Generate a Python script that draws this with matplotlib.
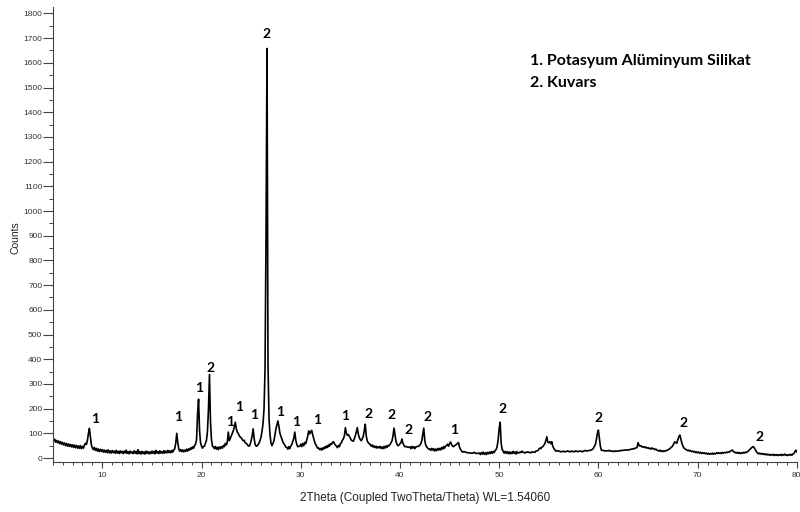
import matplotlib
matplotlib.use("Agg")
import matplotlib.pyplot as plt
import numpy as np
from matplotlib.ticker import MultipleLocator

# XRD scan, step 0.1 deg from 5 to 80 (one row per degree), counts
two_theta = np.round(np.arange(5.0, 80.05, 0.1), 2)
counts = [
    78, 70, 76, 64, 71, 62, 69, 58, 66, 56,        # 5
    63, 53, 61, 50, 59, 48, 57, 47, 55, 45,        # 6
    54, 43, 52, 42, 51, 40, 49, 39, 50, 38,        # 7
    47, 40, 53, 60, 55, 72, 100, 120, 85, 52,      # 8
    41, 34, 43, 31, 39, 28, 37, 26, 35, 27,        # 9
    34, 24, 32, 23, 31, 22, 33, 21, 29, 20,        # 10
    30, 22, 28, 19, 31, 20, 27, 18, 29, 21,        # 11
    27, 18, 28, 20, 32, 19, 26, 17, 28, 20,        # 12
    25, 18, 29, 19, 27, 17, 34, 18, 26, 16,        # 13
    27, 18, 25, 16, 28, 19, 26, 17, 25, 18,        # 14
    28, 19, 27, 17, 31, 20, 26, 18, 29, 20,        # 15
    26, 19, 30, 20, 28, 21, 31, 22, 29, 21,        # 16
    31, 24, 33, 38, 60, 100, 65, 38, 28, 34,       # 17
    26, 33, 25, 32, 27, 36, 28, 37, 32, 41,        # 18
    36, 45, 40, 51, 56, 75, 180, 238, 110, 62,     # 19
    48, 40, 47, 48, 61, 72, 110, 200, 338, 150,    # 20
    75, 48, 45, 38, 47, 36, 43, 34, 45, 38,        # 21
    46, 40, 51, 46, 59, 53, 66, 105, 70, 80,       # 22
    90, 100, 110, 125, 145, 120, 105, 100, 90, 85, # 23
    82, 75, 70, 72, 62, 60, 55, 50, 48, 55,        # 24
    70, 90, 118, 80, 55, 48, 49, 54, 61, 72,       # 25
    85, 110, 140, 200, 360, 900, 1658, 380, 160, 95,  # 26
    60, 50, 59, 70, 95, 118, 135, 150, 128, 100,   # 27
    88, 75, 65, 58, 52, 44, 43, 36, 46, 38,        # 28
    49, 55, 68, 80, 105, 72, 55, 46, 47, 48,       # 29
    56, 46, 59, 50, 63, 58, 72, 88, 110, 98,       # 30
    105, 112, 95, 80, 65, 55, 48, 40, 41, 34,      # 31
    39, 32, 41, 36, 45, 40, 49, 43, 53, 48,        # 32
    58, 55, 64, 66, 58, 52, 48, 42, 51, 46,        # 33
    58, 62, 72, 78, 90, 123, 100, 92, 95, 88,      # 34
    80, 72, 70, 68, 78, 90, 105, 123, 98, 82,      # 35
    75, 70, 78, 88, 110, 137, 90, 70, 62, 58,      # 36
    55, 48, 53, 44, 49, 42, 48, 40, 46, 41,        # 37
    47, 39, 45, 38, 47, 40, 49, 43, 51, 50,        # 38
    55, 62, 70, 90, 121, 95, 68, 55, 50, 52,       # 39
    58, 62, 77, 60, 52, 46, 46, 46, 43, 44,        # 40
    45, 38, 47, 40, 46, 38, 45, 46, 47, 48,        # 41
    52, 58, 70, 95, 121, 72, 52, 45, 40, 36,       # 42
    37, 31, 39, 32, 38, 28, 36, 30, 39, 32,        # 43
    39, 33, 43, 36, 46, 40, 49, 50, 56, 48,        # 44
    58, 65, 55, 48, 46, 50, 52, 56, 58, 63,        # 45
    45, 35, 30, 24, 25, 26, 23, 23, 21, 22,        # 46
    20, 21, 19, 20, 21, 23, 19, 19, 18, 20,        # 47
    20, 14, 22, 16, 24, 15, 21, 14, 23, 17,        # 48
    24, 18, 26, 19, 27, 22, 31, 35, 48, 75,        # 49
    120, 145, 60, 35, 27, 20, 27, 19, 26, 18,      # 50
    25, 17, 24, 18, 27, 19, 25, 16, 26, 20,        # 51
    21, 24, 22, 28, 23, 23, 20, 24, 23, 25,        # 52
    22, 23, 21, 25, 24, 24, 23, 28, 29, 30,        # 53
    36, 40, 38, 44, 46, 52, 58, 70, 86, 64,        # 54
    62, 66, 58, 66, 48, 40, 34, 28, 29, 30,        # 55
    27, 28, 25, 26, 26, 28, 25, 26, 27, 29,        # 56
    26, 27, 25, 28, 27, 26, 25, 29, 27, 27,        # 57
    26, 28, 28, 27, 25, 28, 29, 31, 28, 29,        # 58
    30, 31, 31, 33, 35, 40, 48, 55, 75, 100,       # 59
    113, 80, 48, 32, 31, 31, 29, 29, 28, 30,       # 60
    29, 31, 28, 29, 27, 28, 26, 29, 28, 28,        # 61
    28, 30, 29, 31, 30, 32, 31, 33, 33, 32,        # 62
    32, 34, 34, 36, 36, 38, 37, 40, 41, 43,        # 63
    62, 52, 48, 50, 45, 44, 46, 42, 44, 40,        # 64
    42, 38, 40, 36, 41, 37, 38, 34, 36, 32,        # 65
    30, 28, 32, 27, 30, 26, 29, 27, 31, 30,        # 66
    33, 35, 38, 42, 45, 50, 58, 66, 62, 60,        # 67
    72, 85, 93, 80, 62, 50, 42, 38, 35, 33,        # 68
    30, 32, 28, 30, 26, 28, 24, 27, 22, 25,        # 69
    21, 24, 20, 23, 18, 22, 19, 21, 17, 20,        # 70
    16, 19, 15, 18, 16, 20, 15, 19, 17, 21,        # 71
    18, 22, 19, 21, 18, 23, 20, 22, 21, 24,        # 72
    22, 25, 24, 28, 30, 32, 27, 24, 22, 20,        # 73
    23, 19, 22, 18, 21, 19, 23, 20, 24, 22,        # 74
    25, 28, 32, 36, 40, 44, 46, 42, 35, 28,        # 75
    22, 18, 20, 16, 19, 15, 18, 14, 17, 13,        # 76
    16, 12, 15, 11, 14, 12, 15, 10, 14, 11,        # 77
    14, 10, 13, 11, 15, 10, 14, 12, 16, 11,        # 78
    13, 10, 14, 12, 15, 11, 16, 18, 25, 32,        # 79
    25,                                            # 80
]

# phase markers: 1 = Potasyum Alüminyum Silikat, 2 = Kuvars
label_x = [9.3, 17.6, 19.8, 20.9, 22.9, 23.8, 25.3, 26.6, 27.9, 29.5, 31.6,
           34.5, 36.8, 39.1, 40.9, 42.8, 45.5, 50.3, 60.0, 68.6, 76.2]
label_y = [158, 166, 283, 364, 146, 206, 174, 1717, 186, 146, 154,
           170, 178, 174, 113, 166, 113, 198, 162, 142, 85]
label_txt = ["1", "1", "1", "2", "1", "1", "1", "2", "1", "1", "1",
             "1", "2", "2", "2", "2", "1", "2", "2", "2", "2"]

legend_lines = ["1. Potasyum Alüminyum Silikat", "2. Kuvars"]

fig = plt.figure(figsize=(8, 5.12), dpi=100)
ax = fig.add_axes([0.0659, 0.0977, 0.9301, 0.8886])
ax.plot(two_theta, counts, color="black", lw=1.2)

ax.set_xlim(5, 80)
ax.set_ylim(-16, 1826)
ax.xaxis.set_major_locator(MultipleLocator(10))
ax.xaxis.set_minor_locator(MultipleLocator(1))
ax.yaxis.set_major_locator(MultipleLocator(100))
ax.yaxis.set_minor_locator(MultipleLocator(50))
ax.tick_params(axis="y", which="major", length=7, width=0.8, pad=0.5)
ax.tick_params(axis="y", which="minor", length=2.8, width=0.7)
ax.tick_params(axis="x", which="major", length=4, width=0.8, pad=3)
ax.tick_params(axis="x", which="minor", length=2.3, width=0.7)
ax.tick_params(which="both", color="#444444", labelcolor="#333333")
for lab in ax.get_xticklabels() + ax.get_yticklabels():
    lab.set_fontsize(6)
    lab.set_family("Liberation Sans")
for s in ["top", "right"]:
    ax.spines[s].set_visible(False)
ax.spines["left"].set_color("#444444")
ax.spines["bottom"].set_color("#444444")

fig.text(0.531, 0.027, "2Theta (Coupled TwoTheta/Theta) WL=1.54060", ha="center",
         va="center", fontsize=8.5, family="Liberation Sans", color="#222222")
fig.text(0.019, 0.535, "Counts", ha="center", va="center", rotation=90,
         fontsize=7.5, family="Liberation Sans", color="#222222")

for x, y, t in zip(label_x, label_y, label_txt):
    ax.text(x, y, t, ha="center", va="center", fontsize=10, fontweight="bold",
            family="Lato")

for i, t in enumerate(legend_lines):
    fig.text(0.663, 0.881 - i * 0.043, t, ha="left", va="center", fontsize=11.5,
             fontweight="bold", family="Lato")

fig.savefig("out.png", dpi=100)
